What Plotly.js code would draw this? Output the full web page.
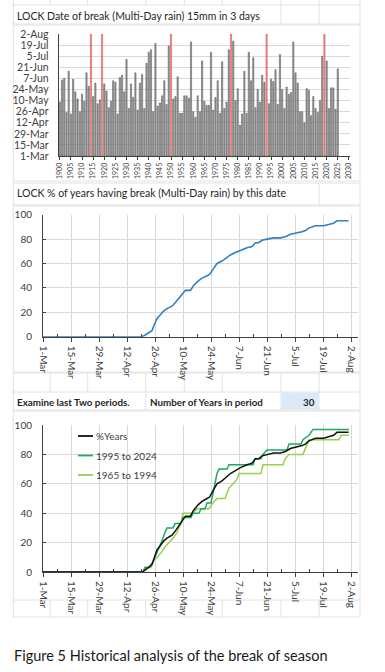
<!DOCTYPE html>
<html><head><meta charset="utf-8">
<script src="https://cdn.plot.ly/plotly-3.0.1.min.js"></script>
<style>html,body{margin:0;padding:0;background:#fff;}#chart{width:385px;height:672px;}</style>
</head><body><div id="chart"></div>
<script>
// ---------- data ----------
const dateTickDays = [0,14,28,42,56,70,84,98,112,126,140,154]; // days after 1-Mar
const dateTickText = ['1-Mar','15-Mar','29-Mar','12-Apr','26-Apr','10-May','24-May','7-Jun','21-Jun','5-Jul','19-Jul','2-Aug'];
const yearTicks = [1900,1905,1910,1915,1920,1925,1930,1935,1940,1945,1950,1955,1960,1965,1970,1975,1980,1985,1990,1995,2000,2005,2010,2015,2020,2025,2030];

const years = [1900,1901,1902,1903,1904,1905,1906,1907,1908,1909,
 1910,1911,1912,1913,1914,1915,1916,1917,1918,1919,
 1920,1921,1922,1923,1924,1925,1926,1927,1928,1929,
 1930,1931,1932,1933,1934,1935,1936,1937,1938,1939,
 1940,1941,1942,1943,1944,1945,1946,1947,1948,1949,
 1950,1951,1952,1953,1954,1955,1956,1957,1958,1959,
 1960,1961,1962,1963,1964,1965,1966,1967,1968,1969,
 1970,1971,1972,1973,1974,1975,1976,1977,1978,1979,
 1980,1981,1982,1983,1984,1985,1986,1987,1988,1989,
 1990,1991,1992,1993,1994,1995,1996,1997,1998,1999,
 2000,2001,2002,2003,2004,2005,2006,2007,2008,2009,
 2010,2011,2012,2013,2014,2015,2016,2017,2018,2019,
 2020,2021,2022,2023,2024,2025];
// break date, days after 1-Mar (null = no break by 2-Aug)
const breakDay = [68,96,98,55,107,53,97,81,72,56,
 78,69,105,88,null,75,92,66,71,null,
 91,82,61,69,95,93,53,99,102,81,
 122,60,91,74,105,58,92,103,60,117,
 131,134,56,142,63,67,76,95,65,139,
 null,72,75,100,54,54,76,76,73,144,
 56,49,76,56,120,69,64,64,131,58,
 74,95,54,119,60,68,134,null,145,70,
 85,39,53,107,54,131,95,124,61,84,
 68,102,93,null,66,97,94,109,65,128,
 84,60,87,78,80,144,105,92,56,56,
 42,85,83,51,75,60,55,70,126,null,
 120,60,86,86,59,110];
const noBreakYears = [1914,1919,1950,1977,1993,2019];
const noBreakDay = [154,154,154,154,154,154];

// % of years having break by date (all years)
const pctDays = [0,49.5,50.7,52.8,54.5,55.7,57,58.7,60.3,62,64.5,66.2,67.8,69.5,71.2,73.7,75.3,77.8,79.5,82,83.3,85.3,87,89.5,92,93.7,96.2,98.7,102,104.5,106.2,107.8,109.5,112,115.3,118.7,121.2,123.7,127,129.5,131.2,132.8,136.2,140.3,142.8,145.3,147,152.8];
const pctAll  = [0,0,1,3,5,10,15,18,21,23,25,28,31,35,38,38,42,46,48,50,51,56,60,62,65,67,69,71,73,74,77,77,79,80,81,81,82,84,85,86,87,89,91,91,92,93,95,95];

// 1995 to 2024
const recentDays = [0,50,51,53,55,56,57,58,59,60,61,62,65,66,69,70,74,75,78,79,81,82,84,85,86,87,88,92,93,105,106,109,110,112,122,123,129,130,133,135,153];
const recentPct  = [0,0,3,3,7,10,13,17,20,23,27,30,30,33,33,37,37,40,40,43,43,47,47,53,60,67,70,70,73,73,77,77,80,83,83,87,87,90,93,97,97];
// 1965 to 1994
const olderDays = [0,50,51,54,55,57,59,61,63,65,67,69,70,75,77,83,85,87,91,92,93,95,97,98,109,110,120,121,123,130,131,132,133,148,149,153];
const olderPct  = [0,0,3,3,7,10,13,17,20,23,27,33,40,40,43,43,47,50,50,53,57,60,63,67,67,73,73,77,80,80,83,87,90,90,93,93];

const periodYears = '30';

// ---------- helpers (pixel -> paper) ----------
const W = 385, H = 672;
const P = x => x / W;
const Q = y => 1 - y / H;
const FONT = 'Lato, "Liberation Sans", sans-serif';
const TXT = '#404040';
const GRID = '#d9d9d9';
const CELL = '#e2e2e2';

const traces = [
  {type:'bar', x:years, y:breakDay, xaxis:'x', yaxis:'y', width:0.55,
   marker:{color:'#a3a3a3', line:{color:'#4a4a4a', width:0.5}}, hoverinfo:'x+y'},
  {type:'bar', x:noBreakYears, y:noBreakDay, xaxis:'x', yaxis:'y', width:0.55,
   marker:{color:'#eb9a9a', line:{color:'#d94040', width:0.5}}, hoverinfo:'x'},
  {type:'scatter', mode:'lines', x:pctDays, y:pctAll, xaxis:'x2', yaxis:'y2',
   line:{color:'#2f7fc1', width:1.6}},
  {type:'scatter', mode:'lines', x:olderDays, y:olderPct, xaxis:'x3', yaxis:'y3', name:'1965 to 1994',
   line:{color:'#97cf4e', width:1.5}},
  {type:'scatter', mode:'lines', x:recentDays, y:recentPct, xaxis:'x3', yaxis:'y3', name:'1995 to 2024',
   line:{color:'#1fa862', width:1.5}},
  {type:'scatter', mode:'lines', x:pctDays, y:pctAll, xaxis:'x3', yaxis:'y3', name:'%Years',
   line:{color:'#111111', width:1.5}}
];

// ---------- sheet cell gridlines ----------
const cols = [13.3, 50, 87.7, 145.7, 184.3, 222.3, 281, 319, 360];
const shapes = [];
function vline(x, y0, y1){ shapes.push({type:'line', xref:'paper', yref:'paper', x0:P(x), x1:P(x), y0:Q(y0), y1:Q(y1), line:{color:CELL, width:1}, layer:'below'}); }
function hline(y, x0, x1){ shapes.push({type:'line', xref:'paper', yref:'paper', x0:P(x0), x1:P(x1), y0:Q(y), y1:Q(y), line:{color:CELL, width:1}, layer:'below'}); }
[5, 24, 183, 205, 373, 392, 410, 617].forEach(y => hline(y, 12, 360));
cols.forEach(x => vline(x, 0, 5));
[13.3, 281, 319, 360].forEach(x => vline(x, 5, 24));
[13.3, 319, 360].forEach(x => vline(x, 183, 205));
cols.forEach(x => vline(x, 373, 392));
[13.3, 145.7, 281, 319, 360].forEach(x => vline(x, 392, 410));
cols.forEach(x => vline(x, 600, 617));
// chart area borders
[[25,181],[206,372],[411,600]].forEach(([a,b]) => shapes.push({type:'rect', xref:'paper', yref:'paper', x0:P(13.3), x1:P(360), y0:Q(b), y1:Q(a), line:{color:CELL, width:1}, fillcolor:'rgba(0,0,0,0)', layer:'below'}));
// blue input cell
shapes.push({type:'rect', xref:'paper', yref:'paper', x0:P(281.5), x1:P(318.5), y0:Q(409.5), y1:Q(392.5), line:{width:0}, fillcolor:'#dce9f6', layer:'below'});
// manual legend samples for chart 3
const legendItems = [['%Years','#111111',436],['1995 to 2024','#1fa862',455.5],['1965 to 1994','#97cf4e',475]];
legendItems.forEach(([t,c,y]) => shapes.push({type:'line', xref:'paper', yref:'paper', x0:P(78), x1:P(93), y0:Q(y), y1:Q(y), line:{color:c, width:1.8}}));

const annotations = [
  {text:'LOCK Date of break (Multi-Day rain) 15mm in 3 days', x:P(14.5), y:Q(16.5), size:10.5},
  {text:'LOCK % of years having break (Multi-Day rain) by this date', x:P(14.5), y:Q(193), size:10.5},
  {text:'<b>Examine last Two periods.</b>', x:P(14.5), y:Q(401.5), size:9.8},
  {text:'<b>Number of Years in period</b>', x:P(147.5), y:Q(401.5), size:9.8},
  {text:'<b>' + periodYears + '</b>', x:P(317), y:Q(401.5), size:9.8, xanchor:'right'},
  {text:'Figure 5 Historical analysis of the break of season', x:P(11.5), y:Q(655), size:14.5, color:'#1a1a1a'}
].map(a => ({text:a.text, x:a.x, y:a.y, xref:'paper', yref:'paper', xanchor:a.xanchor||'left', yanchor:'middle', showarrow:false,
  font:{family:FONT, size:a.size, color:a.color||'#262626'}}));
legendItems.forEach(([t,c,y]) => annotations.push({text:t, x:P(94), y:Q(y), xref:'paper', yref:'paper', xanchor:'left', yanchor:'middle', showarrow:false, font:{family:FONT, size:10, color:TXT}}));

const dateAxis = (dom, yname) => ({domain:dom, anchor:yname, range:[0,157.3], tickmode:'array', tickvals:dateTickDays, ticktext:dateTickText,
  tickangle:90, tickfont:{family:FONT, size:10, color:TXT}, showgrid:true, gridcolor:GRID, gridwidth:1, zeroline:false,
  showline:true, linecolor:'#404040', linewidth:1, ticks:'outside', ticklen:4, tickcolor:'#404040', ticklabelstandoff:2,
  minor:{tickmode:'array', tickvals:[7,21,35,49,63,77,91,105,119,133,147], ticks:'inside', ticklen:3, tickcolor:'#404040', showgrid:false}});
const pctAxis = (dom, xname) => ({domain:dom, anchor:xname, range:[0,100], tickmode:'array', tickvals:[0,20,40,60,80,100],
  tickfont:{family:FONT, size:10, color:TXT}, showgrid:true, gridcolor:GRID, zeroline:false,
  showline:true, linecolor:'#404040', linewidth:1, ticks:'inside', ticklen:3, tickcolor:'#404040', ticklabelstandoff:8});

const layout = {
  width:W, height:H, margin:{l:0, r:0, t:0, b:0}, paper_bgcolor:'#ffffff', plot_bgcolor:'rgba(0,0,0,0)',
  showlegend:false, barmode:'overlay', font:{family:FONT, size:10, color:TXT},
  xaxis:{domain:[P(58.7), P(350)], anchor:'y', range:[1899.5, 2030.5], tickmode:'array', tickvals:yearTicks,
    tickangle:-90, tickfont:{family:FONT, size:7, color:TXT}, showgrid:false, zeroline:false,
    showline:true, linecolor:'#404040', linewidth:1, ticks:'outside', ticklen:3, tickcolor:'#404040'},
  yaxis:{domain:[Q(156), Q(34)], anchor:'x', range:[0,154], tickmode:'array', tickvals:dateTickDays, ticktext:dateTickText,
    tickfont:{family:FONT, size:10.5, color:TXT}, showgrid:true, gridcolor:GRID, zeroline:false,
    showline:true, linecolor:'#404040', linewidth:1, ticks:'', ticklabelstandoff:7},
  xaxis2: dateAxis([P(43), P(357.6)], 'y2'),
  yaxis2: pctAxis([Q(336.7), Q(214.7)], 'x2'),
  xaxis3: dateAxis([P(43), P(357.6)], 'y3'),
  yaxis3: pctAxis([Q(572), Q(425)], 'x3'),
  shapes: shapes,
  annotations: annotations
};

Plotly.newPlot('chart', traces, layout, {staticPlot:true, displayModeBar:false});
</script></body></html>
